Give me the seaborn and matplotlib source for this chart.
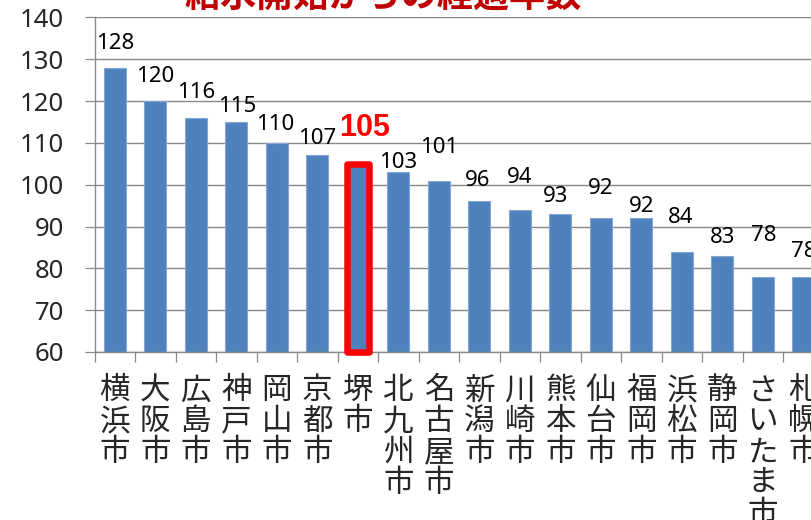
import matplotlib
matplotlib.use("Agg")
import matplotlib.pyplot as plt
from matplotlib.patches import Rectangle
import seaborn as sns

# 給水開始からの経過年数 (years since water supply began)
cities = ["横浜市", "大阪市", "広島市", "神戸市", "岡山市", "京都市", "堺市", "北九州市", "名古屋市",
          "新潟市", "川崎市", "熊本市", "仙台市", "福岡市", "浜松市", "静岡市", "さいたま市", "札幌市"]
years = [128, 120, 116, 115, 110, 107, 105, 103, 101, 96, 94, 93, 92, 92, 84, 83, 78, 78]
highlight = "堺市"
title = "給水開始からの経過年数"
yticks = [60, 70, 80, 90, 100, 110, 120, 130, 140]

# label nudges in pixels (the original labels were dragged by hand)
label_gap_px = [19, 19, 20, 10, 13, 11, 28, 4, 28, 15, 27, 12, 24, 6, 29, 13, 36, 20]
label_dx_px = [0, 0, 0, 1, -2, 0, 7, 0, 0, -2, 0, -5, 0, 0, -1, 0, 1, 0]

sns.set_theme(style="white")
plt.rcParams["font.family"] = ["Noto Sans", "Noto Sans CJK JP", "DejaVu Sans"]

BLUE = "#4F81BD"
GRAY = "#898989"
DPI = 100
px = 72 / DPI

fig = plt.figure(figsize=(8.12, 5.2), dpi=DPI)
ax = fig.add_axes([0.1164, 0.3231, 0.9477, 0.6433])

sns.barplot(x=cities, y=years, color=BLUE, saturation=1, width=0.54,
            edgecolor="#85A6D3", linewidth=0.8, ax=ax)

ax.set_ylim(yticks[0], yticks[-1])
ax.set_xlim(-0.5, 18.5)
ax.set_yticks(yticks)
ax.set_yticklabels([str(t) for t in yticks], fontsize=18.5)
ax.tick_params(axis="y", direction="out", length=7, width=0.9, color=GRAY, pad=15, left=True)
ax.yaxis.grid(True, color=GRAY, linewidth=1.0)
ax.set_axisbelow(True)

# category labels stacked vertically, ticks between categories
n = len(cities)
ax.set_xticks([i - 0.5 for i in range(n + 1)])
ax.set_xticklabels([])
ax.set_xticks(list(range(n)), minor=True)
ax.set_xticklabels(["\n".join(c) for c in cities], minor=True, fontsize=22,
                   linespacing=1.04, va="top")
ax.tick_params(axis="x", which="major", direction="out", length=7, width=0.9, color=GRAY, bottom=True)
ax.tick_params(axis="x", which="minor", length=0, pad=17.5, bottom=True)
ax.set_xlabel("")
ax.set_ylabel("")

for side in ["top", "right"]:
    ax.spines[side].set_visible(False)
for side in ["left", "bottom"]:
    ax.spines[side].set_color(GRAY)
    ax.spines[side].set_linewidth(1.0)

# value labels
hi = cities.index(highlight)
for i, (p, v) in enumerate(zip(ax.patches, years)):
    cx = p.get_x() + p.get_width() / 2
    if i == hi:
        ax.annotate(str(v), (cx, v), xytext=(label_dx_px[i] * px, label_gap_px[i] * px),
                    textcoords="offset points", ha="center", va="baseline",
                    fontsize=22, fontweight="bold", color="#FF0000",
                    family=["Liberation Sans", "DejaVu Sans"], annotation_clip=False)
    else:
        ax.annotate(str(v), (cx, v), xytext=(label_dx_px[i] * px, label_gap_px[i] * px),
                    textcoords="offset points", ha="center", va="baseline",
                    fontsize=16, color="black", annotation_clip=False)

# red frame round the highlighted bar
p = ax.patches[hi]
frame = Rectangle((p.get_x(), yticks[0]), p.get_width(), p.get_height() - yticks[0],
                  fill=False, edgecolor="#FF0000", linewidth=4.7, joinstyle="round",
                  clip_on=False, zorder=5)
ax.add_patch(frame)

fig.text(0.4717, 0.9865, title, ha="center", va="baseline", fontsize=26,
         fontweight="bold", color="#C00000")

fig.savefig("out.png", dpi=DPI)
